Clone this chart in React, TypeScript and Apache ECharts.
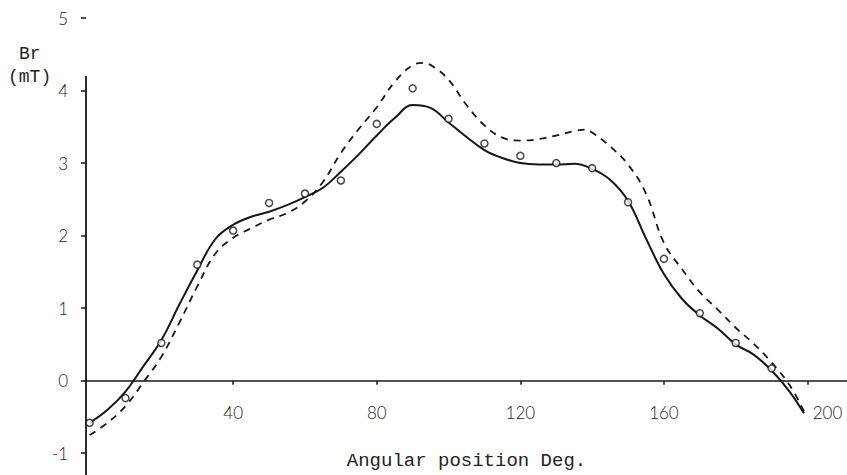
import React, { useEffect, useRef } from "react";
import * as echarts from "echarts";

// Tick values
const xTicks = [40, 80, 120, 160, 200];
const yTicks = [-1, 0, 1, 2, 3, 4, 5];

// Measured points (circles)
const measuredDeg = [0, 10, 20, 30, 40, 50, 60, 70, 80, 90, 100, 110, 120, 130, 140, 150, 160, 170, 180, 190];
const measuredBr = [-0.58, -0.24, 0.52, 1.6, 2.07, 2.45, 2.58, 2.76, 3.54, 4.03, 3.61, 3.27, 3.1, 3.0, 2.93, 2.46, 1.68, 0.93, 0.52, 0.17];

// Solid curve
const solidDeg = [0, 5, 10, 15, 20, 25, 30, 35, 40, 45, 50, 55, 60, 65, 70, 75, 80, 85, 90, 95, 100, 105, 110, 115, 120, 125, 130, 135, 140, 145, 150, 155, 160, 165, 170, 175, 180, 185, 190, 195, 199];
const solidBr = [-0.58, -0.4, -0.15, 0.2, 0.56, 1.05, 1.52, 1.95, 2.15, 2.26, 2.33, 2.42, 2.53, 2.66, 2.88, 3.12, 3.38, 3.62, 3.8, 3.76, 3.56, 3.36, 3.18, 3.07, 3.0, 2.98, 2.98, 2.99, 2.92, 2.77, 2.48, 1.96, 1.47, 1.13, 0.9, 0.72, 0.5, 0.36, 0.14, -0.15, -0.45];

// Dashed curve
const dashedDeg = [0, 5, 10, 15, 20, 25, 30, 35, 40, 45, 50, 55, 60, 65, 70, 75, 80, 85, 90, 93, 96, 100, 105, 110, 115, 120, 125, 130, 135, 138, 140, 145, 150, 155, 160, 165, 170, 175, 180, 185, 190, 195, 199];
const dashedBr = [-0.75, -0.58, -0.35, -0.02, 0.33, 0.8, 1.3, 1.75, 1.97, 2.1, 2.22, 2.31, 2.47, 2.74, 3.14, 3.47, 3.77, 4.12, 4.35, 4.38, 4.32, 4.15, 3.8, 3.52, 3.35, 3.31, 3.33, 3.38, 3.44, 3.46, 3.42, 3.23, 2.98, 2.58, 1.9, 1.54, 1.22, 0.98, 0.73, 0.51, 0.25, -0.06, -0.42];

// Axis extents
const xMin = -1;
const xMax = 211;
const yMin = -1.3;
const yMax = 5;
const yAxisLineTop = 4.2;

const GRID_TOP = 18;
const GRID_H = 457;
// distance from the grid's bottom edge up to the y = 0 line
const zeroOffset = (GRID_H * (0 - yMin)) / (yMax - yMin);

const zip = (xs: number[], ys: number[]) => xs.map((x, i) => [x, ys[i]]);

const INK = "#161616";
const NUM_FONT = "Lato, 'Open Sans', 'DejaVu Sans', sans-serif";
const MONO = "'Liberation Mono', 'DejaVu Sans Mono', monospace";

export default function App() {
  const ref = useRef<HTMLDivElement>(null);
  useEffect(() => {
    const chart = echarts.init(ref.current!, null, { renderer: "svg" });
    chart.setOption({
      animation: false,
      backgroundColor: "#ffffff",
      grid: { left: 86, right: 0, top: GRID_TOP, height: GRID_H, outerBoundsMode: "none", containLabel: false },
      xAxis: {
        type: "value",
        min: xMin,
        max: xMax,
        position: "bottom",
        offset: -zeroOffset,
        axisLine: { onZero: false, lineStyle: { color: INK, width: 1.6 } },
        axisTick: { show: true, customValues: xTicks, length: 4, lineStyle: { color: INK, width: 1.5 } },
        axisLabel: {
          customValues: xTicks,
          margin: 23,
          fontSize: 17,
          fontWeight: 300,
          fontFamily: NUM_FONT,
          color: "#222",
          formatter: (v: number) => (v === 200 ? "{s|200}" : String(v)),
          rich: { s: { padding: [0, 0, 0, 40], fontSize: 17, fontWeight: 300, fontFamily: NUM_FONT, color: "#222" } },
        },
        splitLine: { show: false },
        name: "Angular position Deg.",
        nameLocation: "middle",
        nameGap: 71,
        nameTextStyle: { fontFamily: MONO, fontSize: 19, color: "#222" },
      },
      yAxis: {
        type: "value",
        min: yMin,
        max: yMax,
        axisLine: { show: false, onZero: false },
        axisTick: { show: true, customValues: yTicks, length: 5, lineStyle: { color: INK, width: 1.5 } },
        axisLabel: {
          customValues: yTicks,
          margin: 18,
          fontSize: 17,
          fontWeight: 300,
          fontFamily: NUM_FONT,
          color: "#222",
        },
        splitLine: { show: false },
      },
      graphic: [
        { type: "text", left: 19, top: 45, style: { text: "Br", font: `18px ${MONO}`, fill: "#222" } },
        { type: "text", left: 8, top: 68, style: { text: "(mT)", font: `18px ${MONO}`, fill: "#222" } },
      ],
      series: [
        {
          type: "line",
          data: [[xMin, yMin], [xMin, yAxisLineTop]],
          symbol: "none",
          silent: true,
          lineStyle: { color: INK, width: 1.8 },
        },
        {
          type: "line",
          data: zip(dashedDeg, dashedBr),
          smooth: 0.4,
          symbol: "none",
          lineStyle: { color: INK, width: 1.8, type: [7, 6] },
        },
        {
          type: "line",
          data: zip(solidDeg, solidBr),
          smooth: 0.4,
          symbol: "none",
          lineStyle: { color: INK, width: 2 },
        },
        {
          type: "scatter",
          data: zip(measuredDeg, measuredBr),
          symbol: "circle",
          symbolSize: 7,
          z: 5,
          itemStyle: { color: "#ffffff", borderColor: INK, borderWidth: 1.5 },
        },
      ],
    });
    return () => chart.dispose();
  }, []);
  return (
    <div
      ref={ref}
      style={{ position: "fixed", left: 0, top: 0, width: 847, height: 475, background: "#fff" }}
    />
  );
}
